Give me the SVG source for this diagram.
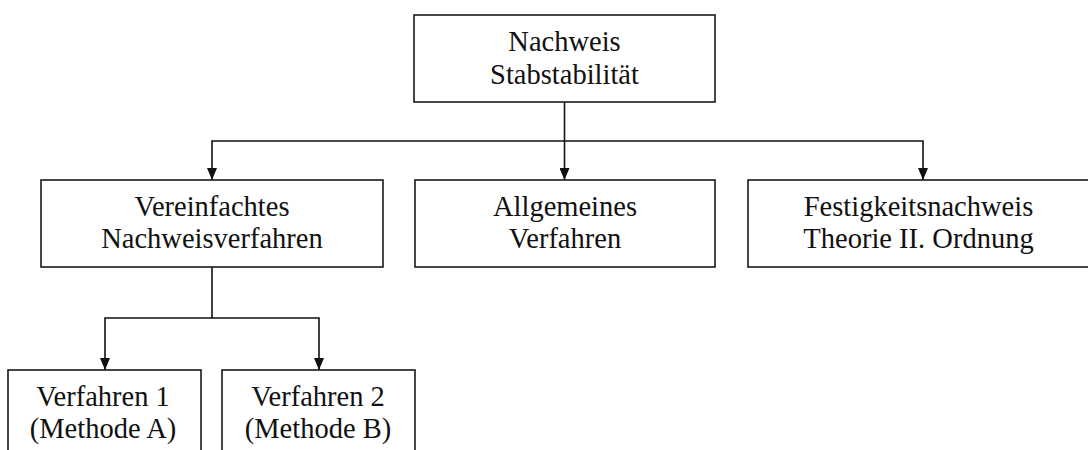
<svg xmlns="http://www.w3.org/2000/svg" width="1088" height="450" viewBox="0 0 1088 450">
  <style>
    .box { fill: #ffffff; stroke: #1a1a1a; stroke-width: 1.6; }
    .lbl { font-family: "Liberation Serif", "Times New Roman", serif; font-size: 28.5px; fill: #111111; text-anchor: middle; }
    .wire { fill: none; stroke: #111111; stroke-width: 1.6; }
  </style>
  <defs>
    <!-- filled triangular arrowhead, tip at the path end -->
    <marker id="arrow" viewBox="0 0 12 10" refX="12" refY="5" markerWidth="12" markerHeight="10" markerUnits="userSpaceOnUse" orient="auto-start-reverse">
      <path d="M0,0 L12,5 L0,10 Z" fill="#111111"/>
    </marker>
  </defs>
  <rect width="1088" height="450" fill="#ffffff"/>

  <!-- connectors -->
  <g id="connectors">
    <path class="wire" d="M564.5,102 V141"/>
    <path class="wire" d="M212,180 V141 H923 V180" marker-start="url(#arrow)" marker-end="url(#arrow)"/>
    <path class="wire" d="M564.5,141 V180" marker-end="url(#arrow)"/>
    <path class="wire" d="M212,267 V318"/>
    <path class="wire" d="M105,370 V318 H319 V370" marker-start="url(#arrow)" marker-end="url(#arrow)"/>
  </g>

  <!-- root -->
  <g id="node-nachweis">
    <rect class="box" x="414" y="15" width="301" height="87"/>
    <text class="lbl" x="564.5" y="51">Nachweis</text>
    <text class="lbl" x="564.5" y="84">Stabstabilität</text>
  </g>

  <!-- second level -->
  <g id="node-vereinfacht">
    <rect class="box" x="41" y="180" width="342" height="87"/>
    <text class="lbl" x="212" y="216">Vereinfachtes</text>
    <text class="lbl" x="212" y="248">Nachweisverfahren</text>
  </g>
  <g id="node-allgemein">
    <rect class="box" x="415" y="180" width="300" height="87"/>
    <text class="lbl" x="565" y="216">Allgemeines</text>
    <text class="lbl" x="565" y="248">Verfahren</text>
  </g>
  <g id="node-festigkeit">
    <rect class="box" x="748" y="180" width="352" height="87"/>
    <text class="lbl" x="918.5" y="216">Festigkeitsnachweis</text>
    <text class="lbl" x="918.5" y="248">Theorie II. Ordnung</text>
  </g>

  <!-- third level -->
  <g id="node-verfahren1">
    <rect class="box" x="8" y="370" width="193" height="100"/>
    <text class="lbl" x="103" y="406">Verfahren 1</text>
    <text class="lbl" x="103" y="438">(Methode A)</text>
  </g>
  <g id="node-verfahren2">
    <rect class="box" x="222" y="370" width="193" height="100"/>
    <text class="lbl" x="318" y="406">Verfahren 2</text>
    <text class="lbl" x="318" y="438">(Methode B)</text>
  </g>
</svg>
